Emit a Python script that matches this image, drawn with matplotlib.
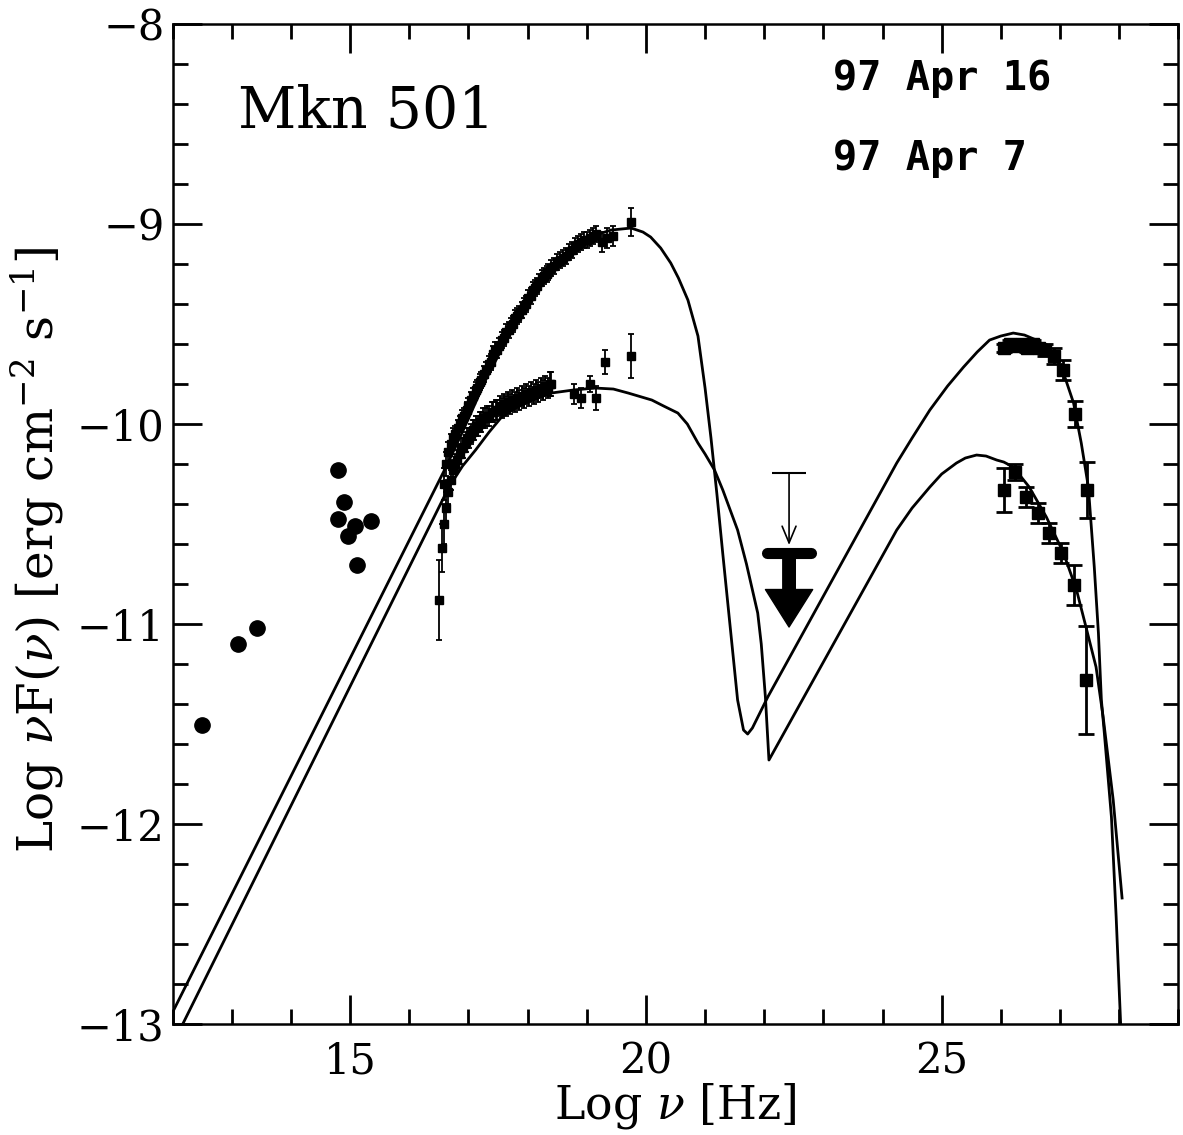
import matplotlib
matplotlib.use("Agg")
import matplotlib.pyplot as plt
from matplotlib.ticker import MultipleLocator

plt.rcParams['font.family'] = 'DejaVu Serif'
plt.rcParams['mathtext.fontset'] = 'dejavuserif'

# --- model curves (SSC fits) ---
apr16_curve_x = [12.0, 16.62, 16.89, 17.29, 17.5, 17.73, 17.95, 18.13, 18.52, 18.97,
                 19.2, 19.41, 19.75, 19.95, 20.08, 20.25, 20.42, 20.55, 20.71, 20.88, 21.0, 21.1,
                 21.2, 21.3, 21.43, 21.55, 21.65, 21.72, 21.8, 22.06, 24.24, 24.5, 24.80, 25.1,
                 25.37, 25.6, 25.81, 26.0, 26.21, 26.4, 26.60, 26.75, 26.89, 27.06, 27.23, 27.36,
                 27.48, 27.58, 27.65, 27.70, 27.75, 27.87, 27.95, 28.03]
apr16_curve_y = [-12.94, -10.215, -10.045, -9.78, -9.66, -9.53, -9.42, -9.33, -9.195, -9.095,
                 -9.05, -9.03, -9.02, -9.04, -9.065, -9.12, -9.195, -9.27, -9.38, -9.56, -9.82, -10.07,
                 -10.35, -10.65, -11.03, -11.38, -11.53, -11.55, -11.52, -11.365, -10.195, -10.07, -9.93, -9.81,
                 -9.715, -9.64, -9.58, -9.56, -9.545, -9.555, -9.58, -9.61, -9.645, -9.745, -9.895, -10.095,
                 -10.315, -10.715, -11.045, -11.38, -11.545, -11.965, -12.465, -13.03]

apr7_curve_x = [12.17, 16.67, 16.9, 17.12, 17.35, 17.56, 17.8, 18.07, 18.40, 18.77, 19.14,
                19.45, 19.70, 20.1, 20.3, 20.54, 20.7, 20.88, 21.0, 21.16, 21.3, 21.55, 21.7,
                21.89, 21.95, 22.02, 22.08, 24.24, 24.5, 24.80, 25.0, 25.25, 25.4, 25.59, 25.75,
                25.93, 26.05, 26.21, 26.48, 26.77, 27.06, 27.28, 27.44, 27.61, 27.73, 27.90, 28.05]
apr7_curve_y = [-13.0, -10.315, -10.21, -10.13, -10.04, -9.965, -9.92, -9.88, -9.845, -9.83, -9.82,
                -9.825, -9.845, -9.88, -9.91, -9.945, -10.0, -10.095, -10.15, -10.23, -10.33, -10.53, -10.7,
                -10.945, -11.1, -11.365, -11.68, -10.53, -10.42, -10.315, -10.25, -10.195, -10.17, -10.155, -10.16,
                -10.18, -10.19, -10.215, -10.315, -10.465, -10.645, -10.83, -11.015, -11.215, -11.465, -11.88, -12.37]

# --- radio / optical points ---
ro_x = [12.50, 13.10, 13.43, 14.79, 14.89, 14.79, 14.97, 15.08, 15.35, 15.12]
ro_y = [-11.505, -11.10, -11.02, -10.23, -10.39, -10.475, -10.56, -10.51, -10.485, -10.705]

# --- X-ray, 97 Apr 16 (high state) ---
xr16_x = [16.58, 16.62, 16.66, 16.70, 16.74, 16.78, 16.82, 16.85, 16.89, 16.93, 16.97, 17.00,
          17.04, 17.08, 17.12, 17.15, 17.19, 17.22, 17.26, 17.30, 17.34, 17.38, 17.42, 17.45,
          17.49, 17.52, 17.56, 17.60, 17.64, 17.68, 17.72, 17.75, 17.79, 17.82, 17.86, 17.90,
          17.94, 17.97, 18.01, 18.05, 18.09, 18.12, 18.16, 18.20, 18.24, 18.28, 18.32, 18.35,
          18.40, 18.45, 18.50, 18.55, 18.60, 18.65, 18.70, 18.75, 18.80, 18.85, 18.90, 18.95,
          19.00, 19.05, 19.10, 19.15, 19.25, 19.35, 19.45, 19.75]
xr16_y = [-10.30, -10.20, -10.14, -10.10, -10.07, -10.05, -10.02, -10.00, -9.97, -9.96, -9.93, -9.91,
          -9.88, -9.86, -9.83, -9.82, -9.79, -9.78, -9.75, -9.73, -9.70, -9.69, -9.65, -9.63,
          -9.63, -9.61, -9.58, -9.57, -9.54, -9.53, -9.51, -9.50, -9.47, -9.46, -9.45, -9.43,
          -9.41, -9.40, -9.37, -9.36, -9.33, -9.32, -9.31, -9.29, -9.27, -9.26, -9.25, -9.24,
          -9.22, -9.21, -9.19, -9.18, -9.17, -9.16, -9.14, -9.13, -9.11, -9.10, -9.09, -9.08,
          -9.08, -9.07, -9.06, -9.05, -9.09, -9.07, -9.06, -8.99]
xr16_e = [0.08, 0.06, 0.05, 0.05, 0.05, 0.04, 0.04, 0.04, 0.04, 0.04, 0.04, 0.04,
          0.04, 0.04, 0.04, 0.04, 0.04, 0.04, 0.04, 0.04, 0.04, 0.04, 0.04, 0.04,
          0.04, 0.04, 0.04, 0.04, 0.04, 0.04, 0.04, 0.04, 0.04, 0.04, 0.04, 0.04,
          0.04, 0.04, 0.04, 0.04, 0.04, 0.04, 0.04, 0.04, 0.04, 0.04, 0.04, 0.04,
          0.04, 0.04, 0.04, 0.04, 0.04, 0.04, 0.04, 0.04, 0.04, 0.04, 0.04, 0.04,
          0.04, 0.04, 0.04, 0.04, 0.05, 0.05, 0.05, 0.07]

# --- X-ray, 97 Apr 7 (low state) ---
xr7_x = [16.50, 16.55, 16.58, 16.62, 16.66, 16.70, 16.74, 16.78, 16.81, 16.85, 16.88, 16.91,
         16.95, 16.98, 17.01, 17.04, 17.07, 17.10, 17.13, 17.16, 17.19, 17.22, 17.25, 17.28,
         17.32, 17.35, 17.39, 17.42, 17.46, 17.49, 17.53, 17.56, 17.60, 17.63, 17.67, 17.70,
         17.74, 17.78, 17.82, 17.86, 17.90, 17.94, 17.98, 18.02, 18.06, 18.10, 18.14, 18.18,
         18.22, 18.26, 18.30, 18.34, 18.37, 18.40, 18.78, 18.91, 19.06, 19.16, 19.31, 19.74]
xr7_y = [-10.88, -10.62, -10.50, -10.42, -10.34, -10.28, -10.23, -10.20, -10.18, -10.15, -10.12, -10.12,
         -10.09, -10.07, -10.07, -10.05, -10.03, -10.03, -10.01, -10.01, -9.99, -9.99, -9.97, -9.97,
         -9.96, -9.96, -9.94, -9.94, -9.93, -9.93, -9.91, -9.92, -9.90, -9.91, -9.89, -9.90,
         -9.88, -9.89, -9.87, -9.88, -9.86, -9.87, -9.85, -9.86, -9.84, -9.85, -9.83, -9.84,
         -9.82, -9.83, -9.81, -9.82, -9.80, -9.80, -9.85, -9.87, -9.80, -9.87, -9.69, -9.66]
xr7_e = [0.20, 0.12, 0.10, 0.08, 0.06, 0.05, 0.05, 0.05, 0.05, 0.05, 0.05, 0.05,
         0.05, 0.05, 0.05, 0.05, 0.05, 0.05, 0.05, 0.05, 0.05, 0.05, 0.05, 0.05,
         0.05, 0.05, 0.05, 0.05, 0.05, 0.05, 0.05, 0.05, 0.05, 0.05, 0.05, 0.05,
         0.05, 0.05, 0.05, 0.05, 0.05, 0.05, 0.05, 0.05, 0.05, 0.05, 0.05, 0.05,
         0.05, 0.05, 0.05, 0.05, 0.06, 0.06, 0.05, 0.05, 0.04, 0.06, 0.06, 0.11]

# --- TeV points ---
tev16_x = [26.05, 26.15, 26.25, 26.35, 26.45, 26.55, 26.65, 26.75, 26.90, 27.05, 27.25, 27.45]
tev16_y = [-9.62, -9.60, -9.61, -9.60, -9.62, -9.60, -9.62, -9.63, -9.66, -9.73, -9.95, -10.33]
tev16_e = [0.02, 0.02, 0.02, 0.02, 0.02, 0.02, 0.02, 0.03, 0.04, 0.05, 0.065, 0.14]

tev7_x = [26.05, 26.24, 26.43, 26.63, 26.82, 27.02, 27.24, 27.44]
tev7_y = [-10.33, -10.24, -10.365, -10.445, -10.545, -10.645, -10.805, -11.28]
tev7_e = [0.11, 0.04, 0.05, 0.05, 0.05, 0.05, 0.10, 0.27]

# --- EGRET upper limits ---
ul_x = [22.42, 22.42]
ul_y = [-10.245, -10.645]

fig = plt.figure(figsize=(11.83, 11.35), dpi=100)
ax = fig.add_axes([0.146, 0.0978, 0.850, 0.881])

ax.plot(apr16_curve_x, apr16_curve_y, color='black', lw=2.0)
ax.plot(apr7_curve_x, apr7_curve_y, color='black', lw=2.0)

ax.plot(ro_x, ro_y, 'o', color='black', ms=11)

for xs, ys, es in [(xr16_x, xr16_y, xr16_e), (xr7_x, xr7_y, xr7_e)]:
    ax.errorbar(xs, ys, yerr=es, fmt='s', color='black', ms=5.5,
                elinewidth=1.3, capsize=2.5, capthick=1.3)

for xs, ys, es in [(tev16_x, tev16_y, tev16_e), (tev7_x, tev7_y, tev7_e)]:
    ax.errorbar(xs, ys, yerr=es, fmt='s', color='black', ms=8,
                elinewidth=2.0, capsize=6, capthick=2.0)

# thin upper limit
ax.hlines(ul_y[0], ul_x[0] - 0.29, ul_x[0] + 0.29, color='black', lw=1.5)
ax.annotate('', xy=(ul_x[0], ul_y[0] - 0.36), xytext=(ul_x[0], ul_y[0]),
            arrowprops=dict(arrowstyle='->,head_width=0.25,head_length=0.6',
                            color='black', lw=1.2, shrinkA=0, shrinkB=0,
                            mutation_scale=20))
# thick upper limit
ax.hlines(ul_y[1], ul_x[1] - 0.37, ul_x[1] + 0.37, color='black', lw=8,
          capstyle='round')
ax.annotate('', xy=(ul_x[1], ul_y[1] - 0.37), xytext=(ul_x[1], ul_y[1]),
            arrowprops=dict(arrowstyle='simple,head_width=1.7,head_length=1.35,tail_width=0.45',
                            color='black', shrinkA=0, shrinkB=0, mutation_scale=20))

ax.set_xlim(12, 29)
ax.set_ylim(-13, -8)
ax.xaxis.set_major_locator(MultipleLocator(5))
ax.xaxis.set_minor_locator(MultipleLocator(1))
ax.yaxis.set_major_locator(MultipleLocator(1))
ax.yaxis.set_minor_locator(MultipleLocator(0.2))
ax.tick_params(which='both', direction='in', top=True, right=True, width=2)
ax.tick_params(which='major', length=21, labelsize=30)
ax.tick_params(axis='x', which='major', pad=12)
ax.tick_params(axis='y', which='major', pad=6)
ax.tick_params(which='minor', length=11)
for s in ax.spines.values():
    s.set_linewidth(1.8)

ax.set_xlabel(r'Log $\nu$ [Hz]', fontsize=33)
ax.set_ylabel(r'Log $\nu$F($\nu$) [erg cm$^{-2}$ s$^{-1}$]', fontsize=35)
ax.xaxis.set_label_coords(0.5, -0.057)
ax.yaxis.set_label_coords(-0.106, 0.474)

ax.text(0.065, 0.896, 'Mkn 501', transform=ax.transAxes, fontsize=41)
ax.text(0.657, 0.934, '97 Apr 16', transform=ax.transAxes, fontsize=29,
        family='DejaVu Sans Mono', weight='bold')
ax.text(0.657, 0.854, '97 Apr 7', transform=ax.transAxes, fontsize=29,
        family='DejaVu Sans Mono', weight='bold')

fig.savefig('out.png', dpi=100)
